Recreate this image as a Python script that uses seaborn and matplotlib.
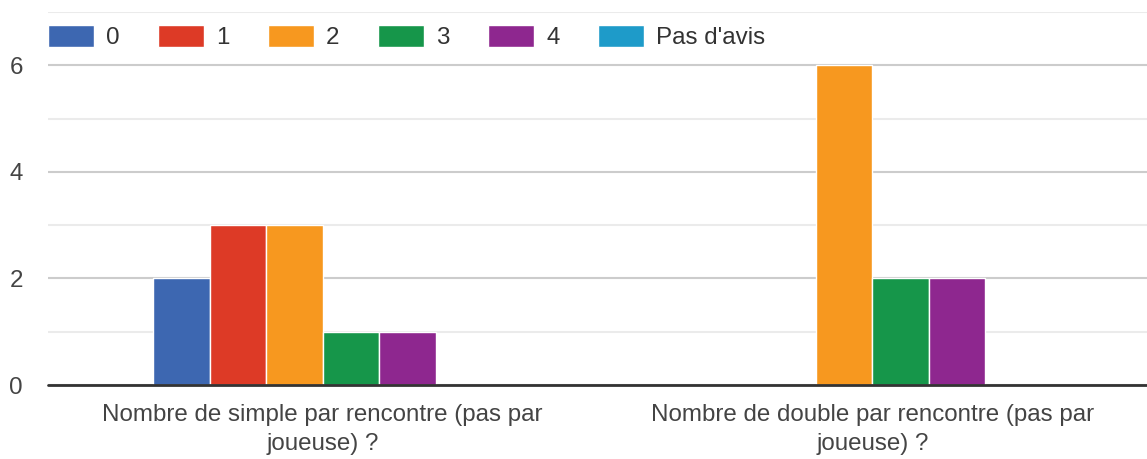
import seaborn as sns
import matplotlib.pyplot as plt
import pandas as pd
from matplotlib.ticker import MultipleLocator

# questions (x categories) and answer levels (hue)
questions = ["Nombre de simple par rencontre (pas par\njoueuse) ?",
             "Nombre de double par rencontre (pas par\njoueuse) ?"]
answers = ["0", "1", "2", "3", "4", "Pas d'avis"]
simple_counts = [2, 3, 3, 1, 1, 0]
double_counts = [0, 0, 6, 2, 2, 0]
colors = ["#3d67b1", "#dd3a26", "#f7981f", "#16964a", "#8e278f", "#1e9bc9"]

rows = []
for a, s, d in zip(answers, simple_counts, double_counts):
    rows.append({"question": questions[0], "answer": a, "count": s})
    rows.append({"question": questions[1], "answer": a, "count": d})
df = pd.DataFrame(rows)

sns.set_style("white")
plt.rcParams['font.family'] = ['Liberation Sans', 'DejaVu Sans']

fig = plt.figure(figsize=(11.47, 4.59), dpi=100)
ax = fig.add_axes([48 / 1147, 1 - 385 / 459, 1 - 48 / 1147, 373 / 459])

sns.barplot(data=df, x="question", y="count", hue="answer", order=questions,
            hue_order=answers, palette=colors, width=0.617, edgecolor="white",
            linewidth=1, saturation=1, ax=ax)

ax.set_ylim(0, 7)
ax.yaxis.set_major_locator(MultipleLocator(2))
ax.yaxis.set_minor_locator(MultipleLocator(1))
ax.grid(axis="y", which="major", color="#cccccc", linewidth=1.5)
ax.grid(axis="y", which="minor", color="#ebebeb", linewidth=1.5)
ax.set_axisbelow(True)
ax.axhline(0, color="#333333", linewidth=2, zorder=5, clip_on=False)
for s in ax.spines.values():
    s.set_visible(False)

ax.set_xlabel("")
ax.set_ylabel("")
ax.tick_params(axis="both", which="both", length=0, labelsize=17.4, labelcolor="#444444")
ax.tick_params(axis="y", pad=18)
ax.tick_params(axis="x", pad=14)
for lbl in ax.get_xticklabels():
    lbl.set_horizontalalignment("center")
    lbl.set_multialignment("center")
    lbl.set_linespacing(1.4)

handles, labels = ax.get_legend_handles_labels()
ax.legend(handles, labels, ncol=6, loc="upper left", bbox_to_anchor=(0.0, 0.966),
          frameon=False, fontsize=17.4, labelcolor="#333333",
          handlelength=1.9, handleheight=1.05, handletextpad=0.5,
          columnspacing=1.6, borderpad=0, borderaxespad=0)

fig.savefig("out.png", dpi=100)
